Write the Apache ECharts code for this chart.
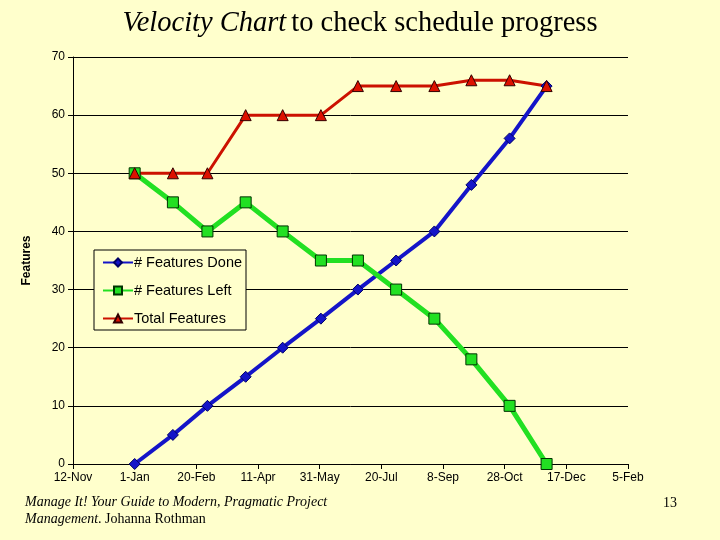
<!DOCTYPE html>
<html>
<head>
<meta charset="utf-8">
<script src="https://cdn.jsdelivr.net/npm/echarts@6/dist/echarts.min.js"></script>
<style>html,body{margin:0;padding:0;background:#FFFFCC;}#c{width:720px;height:540px;}</style>
</head>
<body>
<div id="c"></div>
<script>
// Data
const baseDate = '2000-11-12';
const dates = ['2001-01-01','2001-02-01','2001-03-01','2001-04-01','2001-05-01','2001-06-01','2001-07-01','2001-08-01','2001-09-01','2001-10-01','2001-11-01','2001-12-01'];
const featuresDone = [0,5,10,15,20,25,30,35,40,48,56,65];
const featuresLeft = [50,45,40,45,40,35,35,30,25,18,10,0];
const totalFeatures = [50,50,50,60,60,60,65,65,65,66,66,65];
const seriesNames = ['# Features Done','# Features Left','Total Features'];
const monthNames = ['Jan','Feb','Mar','Apr','May','Jun','Jul','Aug','Sep','Oct','Nov','Dec'];

const DAY = 86400000;
const base = Date.parse(baseDate);
const xDays = dates.map(d => (Date.parse(d) - base) / DAY);
const pairs = arr => arr.map((v, i) => [xDays[i], v]);

const chart = echarts.init(document.getElementById('c'));
chart.setOption({
  backgroundColor: '#FFFFCC',
  animation: false,
  title: {
    text: '{i|Velocity Chart} {n|to check schedule progress}',
    left: 'center',
    top: 4,
    textStyle: {
      fontWeight: 'normal',
      rich: {
        i: {fontFamily: 'Liberation Serif', fontStyle: 'italic', fontWeight: 'normal', fontSize: 28.5, color: '#000'},
        n: {fontFamily: 'Liberation Serif', fontWeight: 'normal', fontSize: 28.5, color: '#000'}
      }
    }
  },
  grid: {left: 73, right: 92, top: 57, bottom: 76},
  legend: {
    orient: 'vertical',
    left: 94,
    top: 250,
    backgroundColor: '#FFFFCC',
    borderColor: '#000',
    borderWidth: 1,
    borderRadius: 0,
    padding: [5, 4, 4, 8],
    itemGap: 13,
    itemWidth: 30,
    itemHeight: 10,
    textStyle: {fontFamily: 'Liberation Sans', fontSize: 14.5, color: '#000', padding: [0,0,0,-4]},
    data: seriesNames
  },
  xAxis: {
    type: 'value',
    min: 0, max: 450, interval: 50,
    axisLine: {show: true, lineStyle: {color: '#000', width: 1}},
    axisTick: {show: true, length: 5, lineStyle: {color: '#000'}},
    splitLine: {show: false},
    axisLabel: {
      fontFamily: 'Liberation Sans', fontSize: 12, color: '#000', margin: 8,
      formatter: v => { const d = new Date(base + v * DAY); return d.getUTCDate() + '-' + monthNames[d.getUTCMonth()]; }
    }
  },
  yAxis: {
    type: 'value',
    min: 0, max: 70, interval: 10,
    name: 'Features',
    nameLocation: 'middle',
    nameGap: 40,
    nameTextStyle: {fontFamily: 'Liberation Sans', fontSize: 12, fontWeight: 'bold', color: '#000'},
    axisLine: {show: true, lineStyle: {color: '#000', width: 1}},
    axisTick: {show: true, length: 5, lineStyle: {color: '#000'}},
    splitLine: {show: true, lineStyle: {color: '#000', width: 1}},
    axisLabel: {fontFamily: 'Liberation Sans', fontSize: 12, color: '#000', margin: 8}
  },
  series: [
    {
      name: seriesNames[0], type: 'line', data: pairs(featuresDone),
      symbol: 'diamond', symbolSize: 11,
      lineStyle: {color: '#1414C8', width: 4},
      itemStyle: {color: '#1414C8', borderColor: '#000066', borderWidth: 1}
    },
    {
      name: seriesNames[1], type: 'line', data: pairs(featuresLeft),
      symbol: 'rect', symbolSize: 11,
      lineStyle: {color: '#22E022', width: 5},
      itemStyle: {color: '#22E022', borderColor: '#003300', borderWidth: 1}
    },
    {
      name: seriesNames[2], type: 'line', data: pairs(totalFeatures),
      symbol: 'triangle', symbolSize: 11,
      lineStyle: {color: '#CC1100', width: 3},
      itemStyle: {color: '#DD1100', borderColor: '#330000', borderWidth: 1}
    }
  ],
  graphic: [
    {
      type: 'text', left: 25, top: 495,
      style: {
        text: '{i|Manage It! Your Guide to Modern, Pragmatic Project}\n{i|Management}{n|. Johanna Rothman}',
        rich: {
          i: {fontFamily: 'Liberation Serif', fontStyle: 'italic', fontSize: 14, color: '#000', lineHeight: 17},
          n: {fontFamily: 'Liberation Serif', fontSize: 14, color: '#000', lineHeight: 17}
        }
      }
    },
    {
      type: 'text', left: 663, top: 496,
      style: {text: '13', fontFamily: 'Liberation Serif', fontSize: 14, fill: '#000'}
    }
  ]
});
</script>
</body>
</html>
